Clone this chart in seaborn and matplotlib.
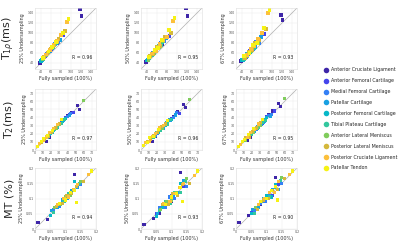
import numpy as np
import pandas as pd
import matplotlib
matplotlib.use('Agg')
import matplotlib.pyplot as plt
from matplotlib.lines import Line2D
import seaborn as sns

# tissue categories and colours (parula-like)
tissues = ['Anterior Cruciate Ligament', 'Anterior Femoral Cartilage', 'Medial Femoral Cartilage',
           'Patellar Cartilage', 'Posterior Femoral Cartilage', 'Tibial Plateau Cartilage',
           'Anterior Lateral Meniscus', 'Posterior Lateral Meniscus', 'Posterior Cruciate Ligament',
           'Patellar Tendon']
colors = ['#3e26a8', '#4545ec', '#3480f5', '#19a0e2', '#07b8c8', '#33c79e',
          '#80cc5c', '#d4b83c', '#fcc03c', '#f6f214']

levels = ['25% Undersampling', '50% Undersampling', '67% Undersampling']

# T1rho (ms): fully sampled values per tissue, then each undersampling level
t1r_full = [[38, 62, 70, 75, 118, 121], [48, 55, 60, 66, 72, 85], [45, 52, 58, 63, 68, 74],
            [42, 50, 56, 61, 67, 78], [40, 47, 53, 57, 62, 70], [44, 51, 55, 59, 64, 69],
            [43, 50, 54, 58, 65, 72], [46, 53, 60, 66, 75, 88], [50, 58, 65, 72, 80, 92],
            [44, 55, 62, 70, 84, 95]]
t1r_25 = [[40, 70, 80, 84, 148, 134], [53, 62, 68, 76, 80, 96], [50, 59, 64, 71, 78, 82],
          [46, 56, 63, 69, 75, 86], [44, 52, 59, 64, 70, 79], [48, 57, 62, 66, 72, 77],
          [47, 56, 61, 65, 73, 81], [52, 60, 69, 76, 88, 104], [57, 66, 76, 84, 96, 122],
          [50, 63, 72, 82, 100, 128]]
t1r_50 = [[42, 72, 78, 88, 150, 134], [55, 60, 70, 74, 84, 94], [49, 60, 66, 70, 80, 84],
          [47, 55, 65, 70, 74, 90], [45, 54, 58, 66, 69, 82], [50, 56, 63, 65, 74, 76],
          [46, 58, 60, 67, 72, 84], [54, 58, 72, 74, 92, 100], [59, 64, 78, 86, 92, 124],
          [52, 66, 70, 86, 106, 130]]
t1r_67 = [[44, 68, 82, 80, 136, 126], [52, 64, 66, 78, 82, 98], [52, 57, 67, 68, 82, 80],
          [45, 58, 61, 72, 72, 92], [46, 50, 61, 62, 72, 80], [47, 59, 60, 68, 70, 79],
          [49, 54, 63, 64, 75, 80], [50, 63, 66, 80, 86, 108], [56, 68, 74, 88, 100, 140],
          [54, 60, 76, 80, 110, 146]]

# T2 (ms)
t2_full = [[14, 18, 40, 45, 52, 55], [22, 28, 33, 38, 42, 47], [20, 25, 30, 35, 40, 44],
           [18, 23, 27, 31, 36, 42], [16, 21, 26, 30, 34, 38], [15, 19, 24, 28, 32, 36],
           [12, 17, 22, 26, 30, 60], [8, 12, 16, 20, 25, 30], [6, 10, 14, 18, 23, 28],
           [3, 8, 11, 15, 21, 33]]
t2_25 = [[11, 16, 42, 46, 55, 50], [23, 29, 34, 40, 43, 46], [21, 26, 31, 36, 41, 45],
         [19, 24, 28, 33, 37, 42], [17, 22, 27, 31, 35, 39], [16, 20, 25, 29, 33, 37],
         [13, 18, 23, 27, 31, 61], [9, 14, 17, 22, 28, 33], [8, 12, 16, 21, 26, 31],
         [4, 10, 14, 18, 24, 37]]
t2_50 = [[10, 17, 41, 47, 56, 52], [24, 28, 35, 39, 44, 45], [20, 27, 30, 37, 40, 46],
         [18, 25, 27, 34, 36, 43], [18, 21, 28, 30, 36, 38], [15, 21, 24, 30, 32, 38],
         [14, 17, 24, 26, 32, 62], [10, 13, 18, 21, 29, 32], [9, 11, 17, 20, 27, 30],
         [5, 9, 15, 17, 25, 36]]
t2_67 = [[12, 15, 43, 48, 57, 53], [22, 30, 33, 41, 42, 48], [22, 25, 32, 35, 42, 44],
         [20, 23, 29, 32, 38, 41], [16, 23, 26, 32, 34, 40], [17, 19, 26, 28, 34, 36],
         [12, 19, 22, 28, 30, 63], [11, 15, 16, 23, 27, 34], [7, 13, 15, 22, 25, 32],
         [4, 11, 13, 19, 26, 38]]

# MT (%)
mt_full = [[0.01, 0.04, 0.06, 0.08, 0.10, 0.13], [0.05, 0.07, 0.09, 0.10, 0.12, 0.14],
           [0.06, 0.08, 0.095, 0.11, 0.125, 0.15], [0.055, 0.075, 0.09, 0.105, 0.12, 0.14],
           [0.05, 0.07, 0.085, 0.10, 0.115, 0.13], [0.06, 0.08, 0.095, 0.11, 0.13, 0.145],
           [0.065, 0.085, 0.10, 0.115, 0.125, 0.15], [0.07, 0.09, 0.105, 0.12, 0.135, 0.16],
           [0.075, 0.095, 0.11, 0.125, 0.14, 0.175], [0.08, 0.10, 0.115, 0.13, 0.135, 0.185]]
mt_25 = [[0.02, 0.03, 0.055, 0.085, 0.095, 0.18], [0.045, 0.075, 0.085, 0.105, 0.12, 0.135],
         [0.065, 0.075, 0.10, 0.105, 0.13, 0.145], [0.06, 0.07, 0.095, 0.10, 0.125, 0.135],
         [0.045, 0.075, 0.08, 0.105, 0.11, 0.155], [0.055, 0.085, 0.09, 0.115, 0.125, 0.15],
         [0.07, 0.08, 0.105, 0.11, 0.13, 0.155], [0.075, 0.085, 0.11, 0.115, 0.14, 0.155],
         [0.08, 0.10, 0.105, 0.13, 0.145, 0.18], [0.085, 0.095, 0.12, 0.125, 0.086, 0.19]]
mt_50 = [[0.015, 0.035, 0.05, 0.09, 0.09, 0.185], [0.05, 0.08, 0.08, 0.11, 0.115, 0.14],
         [0.07, 0.07, 0.105, 0.10, 0.135, 0.14], [0.05, 0.08, 0.09, 0.11, 0.12, 0.16],
         [0.04, 0.07, 0.09, 0.10, 0.12, 0.15], [0.06, 0.09, 0.085, 0.12, 0.12, 0.155],
         [0.065, 0.09, 0.095, 0.12, 0.135, 0.165], [0.08, 0.08, 0.115, 0.11, 0.145, 0.15],
         [0.085, 0.09, 0.115, 0.135, 0.15, 0.175], [0.08, 0.105, 0.115, 0.135, 0.09, 0.19]]
mt_67 = [[0.02, 0.045, 0.05, 0.08, 0.10, 0.17], [0.055, 0.065, 0.09, 0.11, 0.11, 0.145],
         [0.06, 0.085, 0.09, 0.115, 0.12, 0.15], [0.065, 0.07, 0.10, 0.10, 0.13, 0.13],
         [0.05, 0.065, 0.09, 0.11, 0.105, 0.145], [0.05, 0.09, 0.10, 0.105, 0.135, 0.16],
         [0.07, 0.09, 0.10, 0.125, 0.12, 0.17], [0.065, 0.095, 0.10, 0.125, 0.13, 0.165],
         [0.08, 0.10, 0.12, 0.12, 0.155, 0.18], [0.09, 0.10, 0.125, 0.14, 0.095, 0.19]]

r_values = [[0.96, 0.95, 0.93], [0.97, 0.96, 0.95], [0.94, 0.93, 0.90]]
row_labels = [r'T$_{1\rho}$(ms)', r'T$_{2}$(ms)', 'MT (%)']
row_ticks = [[40, 60, 80, 100, 120, 140], [0, 10, 20, 30, 40, 50, 60, 70], [0, 0.05, 0.1, 0.15, 0.2]]
row_tick_labels = [['40', '60', '80', '100', '120', '140'],
                   ['0', '10', '20', '30', '40', '50', '60', '70'],
                   ['0', '0.05', '0.1', '0.15', '0.2']]
row_lims = [(28, 150), (0, 75), (0, 0.2)]

rows = [(t1r_full, [t1r_25, t1r_50, t1r_67]),
        (t2_full, [t2_25, t2_50, t2_67]),
        (mt_full, [mt_25, mt_50, mt_67])]

sns.set_style('whitegrid')
palette = dict(zip(tissues, colors))

fig = plt.figure(figsize=(4, 2.43), dpi=100)
W, H = 400, 243
col_left = [35, 141, 236]
row_top = [8, 89, 168]
aw, ah = 61, 61

for i, (full, unders) in enumerate(rows):
    for j, under in enumerate(unders):
        recs = []
        for k, t in enumerate(tissues):
            for xv, yv in zip(full[k], under[k]):
                recs.append({'tissue': t, 'full': xv, 'under': yv})
        df = pd.DataFrame(recs)
        ax = fig.add_axes([col_left[j] / W, 1 - (row_top[i] + ah) / H, aw / W, ah / H])
        lo, hi = row_lims[i]
        ax.plot([lo, hi], [lo, hi], color='#b0b0b0', lw=0.5, zorder=1)
        sns.scatterplot(data=df, x='full', y='under', hue='tissue', palette=palette,
                        hue_order=tissues, marker='s', s=5, linewidth=0, ax=ax,
                        legend=False, zorder=2)
        ax.set_xlim(lo, hi)
        ax.set_ylim(lo, hi)
        ax.set_xticks(row_ticks[i])
        ax.set_xticklabels(row_tick_labels[i])
        ax.set_yticks(row_ticks[i])
        ax.set_yticklabels(row_tick_labels[i])
        ax.tick_params(labelsize=2.3, length=0, pad=1, colors='#555555')
        ax.grid(color='#e8e8e8', lw=0.3)
        for sp in ax.spines.values():
            sp.set_color('#dddddd')
            sp.set_linewidth(0.4)
        ax.set_xlabel('Fully sampled (100%)', fontsize=3.5, labelpad=1.5, color='#333333')
        ax.set_ylabel(levels[j], fontsize=3.5, labelpad=1.5, color='#333333')
        ax.text(0.6, 0.17, 'R = %.2f' % r_values[i][j], transform=ax.transAxes,
                fontsize=3.3, color='#222222')
    fig.text(9 / W, 1 - (row_top[i] + ah / 2) / H, row_labels[i], rotation=90,
             ha='center', va='center', fontsize=8)

handles = [Line2D([], [], marker='o', linestyle='', markersize=4,
                  markerfacecolor=c, markeredgewidth=0) for c in colors]
fig.legend(handles, tissues, loc='upper left', bbox_to_anchor=(321 / W, 1 - 65 / H),
           frameon=False, fontsize=3.4, handletextpad=0.7, labelspacing=1.25,
           borderpad=0, handlelength=1)

fig.savefig('out.png', dpi=100)
